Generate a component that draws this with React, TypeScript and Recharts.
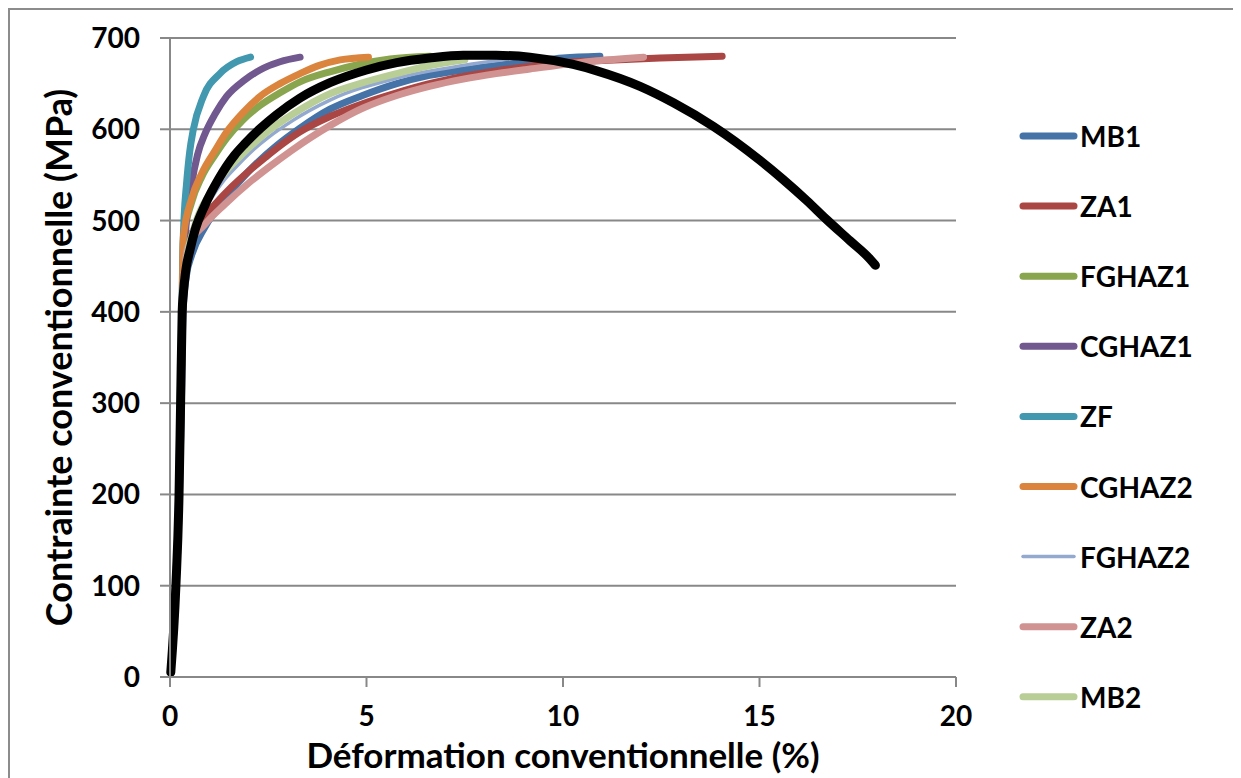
import React from 'react';
import { LineChart, Line, XAxis, YAxis, CartesianGrid, Legend, Label } from 'recharts';

const FONT = 'Lato, "Open Sans", sans-serif';
const GRID = '#888888';

// Tick labels
const xTicks = [0, 5, 10, 15, 20];
const yTicks = [0, 100, 200, 300, 400, 500, 600, 700];

// Series names / colours
const seriesNames = ['MB1', 'ZA1', 'FGHAZ1', 'CGHAZ1', 'ZF', 'CGHAZ2', 'FGHAZ2', 'ZA2', 'MB2'];
const seriesColors = ['#4572A7', '#AA4643', '#89A54E', '#71588F', '#4198AF', '#DB843D', '#93A9CF', '#D19392', '#B9CD96'];

// Strain (%) / stress (MPa)
const mb1Strain = [0.02, 0.16, 0.24, 0.29, 0.33, 0.42, 0.55, 0.89, 1.44, 2.0, 2.71, 3.3, 4.07, 4.9, 5.77, 6.6, 7.46, 8.3, 9.16, 10.0, 10.94];
const mb1Stress = [5, 100, 200, 300, 400, 440, 462, 493, 526, 554, 582, 601, 622, 637, 650, 659, 665, 670, 674, 678, 680];

const za1Strain = [0.02, 0.15, 0.23, 0.28, 0.32, 0.45, 0.68, 1.15, 1.57, 2.0, 2.42, 2.71, 3.3, 4.07, 4.9, 5.77, 6.6, 7.46, 8.3, 9.16, 10.0, 10.86, 12.47, 14.05];
const za1Stress = [5, 100, 200, 300, 400, 475, 494, 518, 537, 554, 569, 579, 597, 614, 628, 640, 650, 658, 664, 669, 673, 675, 678, 680];

const fghaz1Strain = [0.02, 0.15, 0.23, 0.27, 0.31, 0.34, 0.55, 0.81, 1.15, 1.44, 1.85, 2.29, 2.8, 3.31, 4.07, 4.8, 5.6, 6.62];
const fghaz1Stress = [5, 100, 200, 300, 400, 478, 520, 548, 572, 590, 610, 626, 640, 652, 663, 671, 677, 680];

const cghaz1Strain = [0.02, 0.15, 0.23, 0.27, 0.31, 0.4, 0.55, 0.7, 0.9, 1.15, 1.44, 1.9, 2.29, 2.8, 3.31];
const cghaz1Stress = [5, 100, 200, 300, 400, 490, 540, 572, 596, 617, 636, 654, 665, 674, 679];

const zfStrain = [0.02, 0.14, 0.22, 0.26, 0.3, 0.33, 0.36, 0.42, 0.5, 0.59, 0.85, 1.27, 1.7, 2.05];
const zfStress = [5, 100, 200, 300, 400, 470, 505, 540, 575, 599, 636, 661, 674, 679];

const cghaz2Strain = [0.02, 0.15, 0.23, 0.27, 0.31, 0.34, 0.55, 0.81, 1.15, 1.44, 1.85, 2.29, 2.8, 3.31, 3.8, 4.33, 5.05];
const cghaz2Stress = [5, 100, 200, 300, 400, 482, 524, 552, 577, 597, 618, 636, 650, 661, 670, 676, 679];

const fghaz2Strain = [0.02, 0.15, 0.23, 0.28, 0.32, 0.6, 1.02, 1.87, 3.14, 4.07, 5.77, 7.46, 8.8];
const fghaz2Stress = [5, 100, 200, 300, 400, 485, 522, 567, 610, 632, 656, 670, 678];

const za2Strain = [0.02, 0.15, 0.23, 0.28, 0.32, 0.45, 0.89, 1.4, 2.0, 2.5, 3.1, 4.07, 4.9, 5.77, 6.6, 7.46, 8.3, 9.16, 10.86, 12.05];
const za2Stress = [5, 100, 200, 300, 400, 470, 496, 518, 541, 558, 577, 604, 623, 637, 647, 655, 661, 666, 675, 679];

const mb2Strain = [0.02, 0.15, 0.23, 0.28, 0.32, 0.4, 0.6, 1.02, 1.4, 1.87, 2.5, 3.14, 4.07, 4.83, 5.77, 6.53, 7.5];
const mb2Stress = [5, 100, 200, 300, 400, 450, 490, 530, 553, 574, 598, 617, 639, 650, 661, 669, 676];

// Unlabelled black curve
const blackStrain = [0.02, 0.15, 0.23, 0.27, 0.31, 0.34, 0.4, 0.51, 0.64, 0.89, 1.23, 1.65, 1.9, 2.3, 2.71, 3.3, 4.07, 5.0, 5.77, 6.6, 7.46, 8.3, 9.16, 10.26, 10.86, 11.96, 12.81, 13.83, 15.01, 15.6, 16.2, 16.71, 17.3, 17.81, 17.95];
const blackStress = [5, 100, 200, 300, 400, 420, 445, 468, 490, 517, 545, 572, 584, 601, 616, 634, 651, 665, 673, 678, 681, 681, 679, 671, 664, 647, 629, 603, 566, 545, 522, 501, 478, 458, 451];

const strainSets = [mb1Strain, za1Strain, fghaz1Strain, cghaz1Strain, zfStrain, cghaz2Strain, fghaz2Strain, za2Strain, mb2Strain];
const stressSets = [mb1Stress, za1Stress, fghaz1Stress, cghaz1Stress, zfStress, cghaz2Stress, fghaz2Stress, za2Stress, mb2Stress];

const toPoints = (xs: number[], ys: number[]) => xs.map((x, i) => ({ x, y: ys[i] }));

const series = seriesNames.map((name, i) => ({
  name,
  color: seriesColors[i],
  width: name === 'FGHAZ2' ? 3.5 : 7,
  data: toPoints(strainSets[i], stressSets[i]),
}));
const blackData = toPoints(blackStrain, blackStress);

const tickStyle = { fill: '#000', fontSize: 28, fontWeight: 700, fontFamily: FONT };

const XTitle = (props: any) => {
  const vb = props.viewBox || { x: 162, width: 786 };
  const cx = vb.x + vb.width / 2;
  return (
    <text x={cx} y={760} textAnchor="middle" fill="#000" fontSize={35} fontWeight={700} fontFamily={FONT}>
      Déformation conventionnelle (%)
    </text>
  );
};

const YTitle = (props: any) => {
  const vb = props.viewBox || { y: 30, height: 639 };
  const cy = vb.y + vb.height / 2;
  const cx = 50;
  return (
    <text x={cx} y={cy} transform={`rotate(-90, ${cx}, ${cy})`} textAnchor="middle" dominantBaseline="central" fill="#000" fontSize={36} fontWeight={700} fontFamily={FONT}>
      Contrainte conventionnelle (MPa)
    </text>
  );
};

const LegendContent = (props: any) => {
  const payload = (props.payload || []).filter((p: any) => p.type !== 'none');
  const ordered = seriesNames
    .map((n) => payload.find((p: any) => p.value === n))
    .filter(Boolean);
  return (
    <svg width={230} height={640} style={{ overflow: 'visible', display: 'block' }}>
      {ordered.map((p: any, i: number) => {
        const s = series.find((d) => d.name === p.value);
        const cy = 36 + i * 70.1;
        return (
          <g key={p.value}>
            <line x1={11} y1={cy} x2={62} y2={cy} stroke={p.color} strokeWidth={s ? s.width : 7} strokeLinecap="round" />
            <text x={68} y={cy} dominantBaseline="central" fill="#000" fontSize={28} fontWeight={700} fontFamily={FONT}>
              {p.value}
            </text>
          </g>
        );
      })}
    </svg>
  );
};

export default function App() {
  return (
    <div style={{ position: 'relative', width: 1233, height: 770, overflow: 'hidden' }}>
      <LineChart width={1233} height={770} margin={{ top: 30, right: 285, bottom: 0, left: 0 }}>
        <CartesianGrid horizontal vertical={false} stroke={GRID} strokeWidth={2} />
        <XAxis
          type="number"
          dataKey="x"
          domain={[0, 20]}
          ticks={xTicks}
          interval={0}
          height={101}
          tickSize={10}
          tickMargin={19}
          axisLine={{ stroke: GRID, strokeWidth: 2 }}
          tickLine={{ stroke: GRID, strokeWidth: 2 }}
          tick={tickStyle}
          allowDuplicatedCategory={false}
        >
          <Label content={XTitle} />
        </XAxis>
        <YAxis
          type="number"
          dataKey="y"
          domain={[0, 700]}
          ticks={yTicks}
          interval={0}
          width={162}
          tickSize={10}
          tickMargin={20}
          axisLine={{ stroke: GRID, strokeWidth: 2 }}
          tickLine={{ stroke: GRID, strokeWidth: 2 }}
          tick={tickStyle}
        >
          <Label content={YTitle} />
        </YAxis>
        <Legend
          content={LegendContent}
          layout="vertical"
          align="right"
          verticalAlign="top"
          wrapperStyle={{ position: 'absolute', left: 1004, top: 92, width: 0, height: 0, right: 'auto', bottom: 'auto', overflow: 'visible' }}
        />
        {series.map((s) => (
          <Line
            key={s.name}
            data={s.data}
            dataKey="y"
            name={s.name}
            type="monotone"
            stroke={s.color}
            strokeWidth={s.width}
            strokeLinecap="round"
            strokeLinejoin="round"
            dot={false}
            activeDot={false}
            isAnimationActive={false}
          />
        ))}
        <Line
          data={blackData}
          dataKey="y"
          name="black"
          type="monotone"
          stroke="#000000"
          strokeWidth={9}
          strokeLinecap="round"
          strokeLinejoin="round"
          dot={false}
          activeDot={false}
          legendType="none"
          isAnimationActive={false}
        />
      </LineChart>
      <div
        style={{
          position: 'absolute',
          left: 0,
          top: 0,
          width: 1240,
          height: 780,
          borderTop: '2px solid #8c8c8c',
          borderLeft: '2px solid #8c8c8c',
          pointerEvents: 'none',
        }}
      />
    </div>
  );
}
